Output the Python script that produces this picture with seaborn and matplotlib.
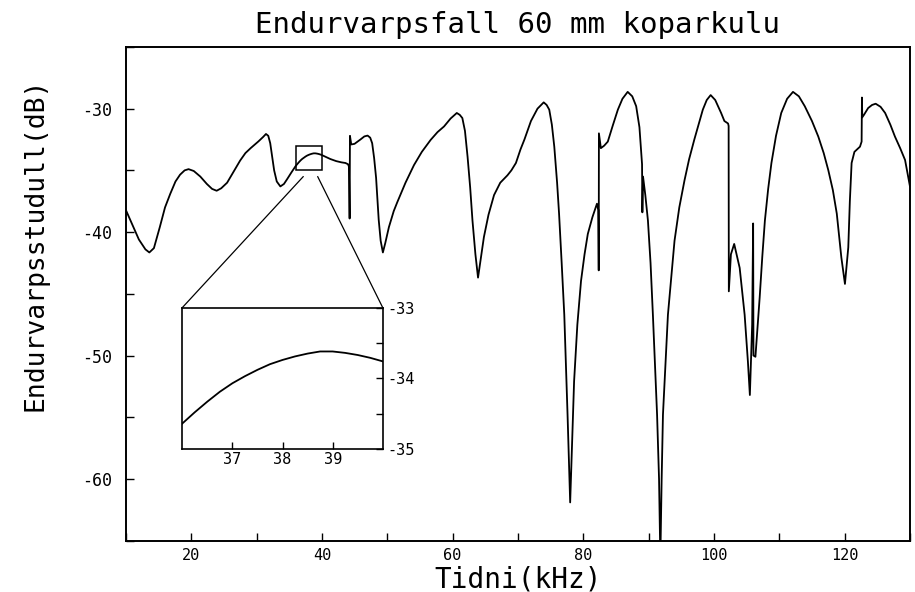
import numpy as np
import pandas as pd
import matplotlib
matplotlib.use("Agg")
import matplotlib.pyplot as plt
from matplotlib.patches import Rectangle, ConnectionPatch
from matplotlib.ticker import MultipleLocator
import seaborn as sns

# frequency (kHz) and echo level (dB)
freq = [10.0, 11.0, 12.0, 13.0, 13.6, 14.3, 15.2, 16.0, 16.8, 17.6, 18.3, 19.0, 19.6, 20.4,
        21.4, 22.4, 23.2, 23.9, 24.6, 25.5, 26.5, 27.5, 28.3, 29.1, 30.3, 31.0, 31.45, 31.8,
        32.1, 32.4, 32.7, 33.1, 33.65, 34.2, 34.7, 35.3, 36.0, 36.25, 36.5, 36.75, 37.0,
        37.25, 37.5, 37.75, 38.0, 38.25, 38.5, 38.75, 39.0, 39.25, 39.5, 39.75, 40.0,
        40.5, 41.3, 42.2, 43.0, 43.6, 44.0, 44.15, 44.25, 44.3, 44.5, 45.0, 45.9, 46.5,
        47.0, 47.4, 47.7, 48.0, 48.3, 48.7, 49.0, 49.34, 49.7, 50.26, 51.0, 51.55, 52.8,
        54.1, 55.3, 56.65, 57.7, 58.7, 59.7, 60.65, 61.1, 61.5, 61.9, 62.3, 62.7, 63.05,
        63.5, 63.9, 64.3, 64.8, 65.5, 66.35, 67.3, 68.4, 69.0, 69.7, 70.4, 71.0, 72.0,
        73.0, 73.95, 74.4, 74.8, 75.2, 75.57, 76.0, 76.3, 76.7, 77.1, 77.6, 78.0, 78.3,
        78.6, 79.1, 79.66, 80.2, 80.7, 81.4, 82.1, 82.3, 82.37, 82.4, 82.7, 83.2, 83.76,
        84.5, 85.3, 86.0, 86.8, 87.5, 88.1, 88.6, 89.0, 89.05, 89.15, 89.5, 89.9, 90.3,
        90.66, 91.3, 91.6, 91.8, 92.0, 92.2, 92.96, 93.97, 94.7, 95.5, 96.2, 97.0, 97.7,
        98.3, 98.9, 99.5, 100.2, 101.1, 101.6, 102.16, 102.25, 102.28, 102.6, 103.1,
        103.94, 104.7, 105.2, 105.5, 105.85, 106.0, 106.05, 106.35, 107.0, 107.4, 107.8,
        108.3, 108.8, 109.5, 110.3, 111.2, 112.1, 113.0, 113.9, 115.0, 115.97, 116.8,
        117.5, 118.2, 118.8, 119.5, 120.05, 120.56, 120.8, 121.07, 121.5, 122.35, 122.6,
        122.65, 122.7, 122.96, 123.6, 124.2, 124.75, 125.5, 126.2, 127.0, 127.7, 128.5,
        129.25, 130.0]
level = [-38.2, -39.4, -40.6, -41.4, -41.65, -41.3, -39.6, -38.0, -36.9, -35.9, -35.35, -35.0,
         -34.9, -35.05, -35.5, -36.1, -36.5, -36.65, -36.45, -36.0, -35.1, -34.2, -33.6, -33.2,
         -32.65, -32.3, -32.05, -32.2, -32.8, -33.9, -35.0, -35.9, -36.3, -36.1, -35.7, -35.2,
         -34.64, -34.48, -34.33, -34.19, -34.07, -33.97, -33.88, -33.8, -33.74, -33.69, -33.65,
         -33.62, -33.62, -33.64, -33.67, -33.71, -33.76,
         -33.88, -34.08, -34.25, -34.35, -34.4, -34.5, -34.7, -38.9, -32.2, -32.9, -32.85,
         -32.5, -32.25, -32.18, -32.35, -32.8, -34.0, -35.6, -39.0, -40.7, -41.65, -40.9,
         -39.6, -38.3, -37.57, -36.0, -34.57, -33.5, -32.53, -31.9, -31.44, -30.8, -30.35,
         -30.5, -30.76, -31.8, -33.9, -36.4, -39.06, -41.8, -43.69, -42.2, -40.4, -38.6,
         -37.0, -36.0, -35.4, -35.0, -34.4, -33.3, -32.5, -31.0, -30.0, -29.49, -29.7,
         -30.08, -31.3, -33.08, -36.0, -38.5, -42.5, -46.7, -54.8, -61.9, -57.0, -52.1,
         -47.5, -43.96, -41.8, -40.15, -38.8, -37.7, -38.2, -43.1, -32.0, -33.2, -33.0,
         -32.67, -31.4, -30.08, -29.2, -28.64, -29.0, -29.8, -31.5, -34.5, -38.4, -35.5,
         -37.0, -39.06, -42.5, -46.7, -54.8, -60.0, -66.5, -60.0, -54.8, -46.7, -40.7,
         -38.0, -35.8, -34.1, -32.5, -31.2, -30.08, -29.3, -28.9, -29.3, -30.35, -31.0,
         -31.2, -31.4, -44.8, -41.8, -40.96, -42.9, -46.7, -50.5, -53.2, -47.5, -39.3,
         -50.0, -50.1, -45.3, -42.0, -39.06, -36.5, -34.4, -32.2, -30.35, -29.2, -28.64,
         -29.0, -29.8, -31.0, -32.26, -33.6, -34.98, -36.6, -38.5, -42.06, -44.2, -41.24,
         -37.5, -34.4, -33.5, -33.08, -32.67, -29.1, -30.7, -30.5, -29.95, -29.7, -29.6,
         -29.85, -30.35, -31.3, -32.26, -33.2, -34.16, -36.3]

# zoomed window shown in the inset
zoom_x = [36, 40]
zoom_y = [-35, -33]
zoom_xticks = [37, 38, 39]
zoom_yticks = [-35, -34, -33]

x_ticks = [20, 40, 60, 80, 100, 120]
y_ticks = [-60, -50, -40, -30]

title = "Endurvarpsfall 60 mm koparkulu"
xlab = "Tidni(kHz)"
ylab = "Endurvarpsstudull(dB)"

sns.set_style("ticks")
plt.rcParams['font.family'] = ['DejaVu Sans Mono']
plt.rcParams['axes.unicode_minus'] = False
plt.rcParams['text.color'] = 'black'
plt.rcParams['axes.labelcolor'] = 'black'
plt.rcParams['xtick.color'] = 'black'
plt.rcParams['ytick.color'] = 'black'

df = pd.DataFrame({'f': freq, 'dB': level})

fig = plt.figure(figsize=(9.15, 5.92), dpi=100)
ax = fig.add_axes([0.1375, 0.0867, 0.857, 0.834])
sns.lineplot(data=df, x='f', y='dB', ax=ax, sort=False, estimator=None,
             color='black', lw=1.3)
ax.set_xlim(10, 130)
ax.set_ylim(-65, -25)
ax.set_xticks(x_ticks)
ax.set_yticks(y_ticks)
ax.xaxis.set_minor_locator(MultipleLocator(10))
ax.yaxis.set_minor_locator(MultipleLocator(5))
ax.tick_params(which='both', direction='in', length=6, width=1,
               top=False, right=False)
ax.tick_params(axis='x', labelsize=11, pad=5)
ax.tick_params(axis='y', labelsize=12, pad=10)
for s in ax.spines.values():
    s.set_linewidth(1.4)
    s.set_color('black')

ax.set_title(title, fontsize=21, pad=10)
ax.set_xlabel(xlab, fontsize=20)
ax.set_ylabel(ylab, fontsize=19)
ax.xaxis.set_label_coords(0.5, -0.05)
ax.yaxis.set_label_coords(-0.098, 0.601)

# box marking the zoomed region
ax.add_patch(Rectangle((zoom_x[0], zoom_y[0]), zoom_x[1] - zoom_x[0], zoom_y[1] - zoom_y[0],
                       fill=False, ec='black', lw=1.1))

axin = fig.add_axes([0.1992, 0.2416, 0.2191, 0.2387])
sns.lineplot(data=df, x='f', y='dB', ax=axin, sort=False, estimator=None,
             color='black', lw=1.3)
axin.set_xlim(*zoom_x)
axin.set_ylim(*zoom_y)
axin.set_xticks(zoom_xticks)
axin.set_yticks(zoom_yticks)
axin.yaxis.set_minor_locator(MultipleLocator(0.5))
axin.yaxis.tick_right()
axin.tick_params(which='both', direction='in', length=5, width=1, labelsize=11,
                 left=False, right=True, top=False)
axin.tick_params(axis='x', pad=2)
axin.tick_params(axis='y', pad=3)
axin.set_xlabel('')
axin.set_ylabel('')
for s in axin.spines.values():
    s.set_linewidth(1.2)
    s.set_color('black')

# lines from the small box to the inset corners
dx = zoom_x[1] - zoom_x[0]
dy = zoom_y[1] - zoom_y[0]
for fx, corner in [(0.29, (0, 1)), (0.84, (1, 1))]:
    con = ConnectionPatch(xyA=(zoom_x[0] + fx * dx, zoom_y[0] - 0.25 * dy), coordsA='data',
                          axesA=ax, xyB=corner, coordsB='axes fraction', axesB=axin,
                          color='black', lw=0.9)
    fig.add_artist(con)

fig.savefig('out.png', dpi=100)
